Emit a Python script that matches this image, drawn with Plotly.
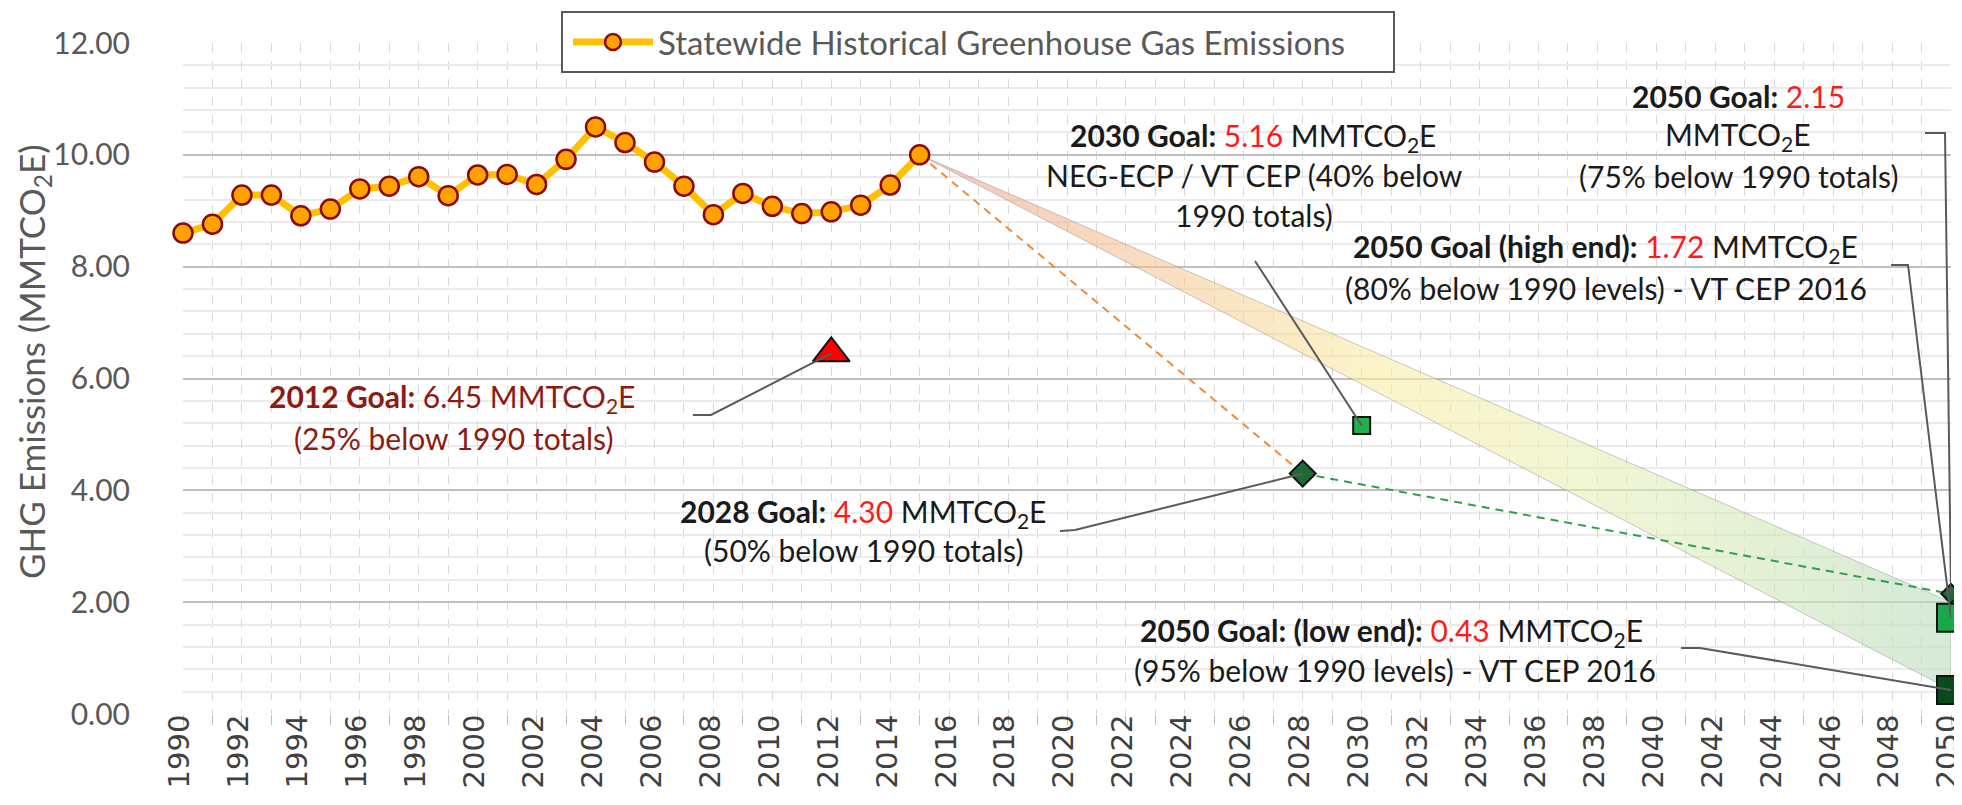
import plotly.graph_objects as go

# ---------------- data ----------------
hist_years = list(range(1990, 2016))
hist_values = [8.60, 8.76, 9.28, 9.28, 8.91, 9.03, 9.39, 9.44, 9.61, 9.27,
               9.64, 9.65, 9.47, 9.92, 10.50, 10.22, 9.87, 9.44, 8.93, 9.31,
               9.08, 8.95, 8.98, 9.10, 9.46, 10.00]

goal2012 = (2012, 6.45)
goal2028 = (2028, 4.30)
goal2030 = (2030, 5.16)
goal2050 = (2050, 2.15)
goal2050_high = (2050, 1.72)
goal2050_low = (2050, 0.43)

path1_years = [2015, 2028]
path1_values = [10.00, 4.30]
path2_years = [2028, 2050]
path2_values = [4.30, 2.15]

band_years = [2015, 2050]
band_upper = [10.00, 2.00]
band_lower = [10.00, 0.43]

x_tick_years = list(range(1990, 2051, 2))
y_ticks = [0, 2, 4, 6, 8, 10, 12]

# ---------------- layout helpers (reference pixel -> axis units) ----------------
L, R, T, B = 175, 19, 35, 99
W, H = 1962, 805
PW = W - R - L
PH = H - B - T
PX_YEAR = PW / 60.0
PX_UNIT = PH / 12.0


def dx(px):
    return 1990 + (px - L) / PX_YEAR


def dy(py):
    return (H - B - py) / PX_UNIT


def px_paper(px):
    return (px - L) / PW


def py_paper(py):
    return (H - B - py) / PH


FONT = "Lato"
DARK = "#1a1a1a"
RED = "#ff1a1a"
MAROON = "#8c1c13"
GREY = "#595959"

fig = go.Figure()

# gradient band
fig.add_trace(go.Scatter(
    x=band_years + band_years[::-1],
    y=band_upper + band_lower[::-1],
    fill="toself",
    fillgradient=dict(type="horizontal", colorscale=[
        [0.0, "rgba(238,150,130,0.55)"],
        [0.2, "rgba(243,190,140,0.55)"],
        [0.45, "rgba(250,238,165,0.6)"],
        [0.7, "rgba(225,238,185,0.6)"],
        [1.0, "rgba(190,222,195,0.65)"]]),
    line=dict(color="rgba(140,140,140,0.45)", width=1),
    mode="lines", hoverinfo="skip", showlegend=False))

# dashed goal paths
fig.add_trace(go.Scatter(x=path1_years, y=path1_values, mode="lines",
                         line=dict(color="#f08a3a", width=2, dash="8px,6px"),
                         showlegend=False, hoverinfo="skip"))
fig.add_trace(go.Scatter(x=path2_years, y=path2_values, mode="lines",
                         line=dict(color="#2e9e4f", width=2, dash="8px,6px"),
                         showlegend=False, hoverinfo="skip"))

# historical series
fig.add_trace(go.Scatter(
    x=hist_years, y=hist_values, mode="lines+markers",
    name="Statewide Historical Greenhouse Gas Emissions",
    line=dict(color="#ffc000", width=7),
    marker=dict(size=19, color="#ffa200", line=dict(color="#8b0a0a", width=2.5)),
    cliponaxis=False))


def goal_marker(pt, symbol, size, color):
    fig.add_trace(go.Scatter(
        x=[pt[0]], y=[pt[1]], mode="markers",
        marker=dict(symbol=symbol, size=size, color=color,
                    line=dict(color="#111111", width=2)),
        showlegend=False, cliponaxis=False, hoverinfo="skip"))


goal_marker(goal2012, "triangle-up", 32, "#ff0000")
goal_marker(goal2030, "square", 17, "#22b14c")
goal_marker(goal2028, "diamond", 20, "#1d6b34")
goal_marker(goal2050, "diamond", 15, "#1d6b34")
goal_marker(goal2050_high, "square", 28, "#1aa64a")
goal_marker(goal2050_low, "square", 28, "#0a4a1f")

# ---------------- annotations ----------------
annos = []
ASIZE = 30


def line_text(cx, cy, text, color=DARK, size=ASIZE):
    annos.append(dict(x=px_paper(cx), y=py_paper(cy), xref="paper", yref="paper",
                      text=text, showarrow=False, xanchor="center", yanchor="middle",
                      font=dict(family=FONT, size=size, color=color)))


MMT = "MMTCO<sub>2</sub>E"
# 2030
line_text(1245, 129, f"<b>2030 Goal:</b> <span style='color:{RED}'>5.16</span> {MMT}")
line_text(1246, 167, "NEG-ECP / VT CEP (40% below")
line_text(1246, 207, "1990 totals)")
# 2050 (2.15)
line_text(1730, 88, f"<b>2050 Goal:</b> <span style='color:{RED}'>2.15</span>")
line_text(1730, 128, MMT)
line_text(1730, 168, "(75% below 1990 totals)")
# 2050 high end
line_text(1597, 240, f"<b>2050 Goal (high end):</b> <span style='color:{RED}'>1.72</span> {MMT}")
line_text(1598, 280, "(80% below 1990 levels) - VT CEP 2016")
# 2050 low end
line_text(1383, 624, f"<b>2050 Goal: (low end):</b> <span style='color:{RED}'>0.43</span> {MMT}")
line_text(1387, 662, "(95% below 1990 levels) - VT CEP 2016")
# 2028
line_text(855, 505, f"<b>2028 Goal:</b> <span style='color:{RED}'>4.30</span> {MMT}")
line_text(855, 542, "(50% below 1990 totals)")
# 2012
line_text(444, 390, f"<b>2012 Goal:</b> 6.45 {MMT}", color=MAROON)
line_text(445, 430, "(25% below 1990 totals)", color=MAROON)

# y-axis title (placed as rotated text)
annos.append(dict(x=px_paper(25), y=py_paper(354), xref="paper", yref="paper",
                  text="GHG Emissions (MMTCO<sub>2</sub>E)", textangle=-90,
                  showarrow=False, xanchor="center", yanchor="middle",
                  font=dict(family=FONT, size=35, color=GREY)))

# ---------------- leader lines + legend frame ----------------
shapes = []


def leader(points_px, end_pt):
    pts = [(dx(px), dy(py)) for px, py in points_px] + [end_pt]
    path = "M " + " L ".join(f"{x},{y}" for x, y in pts)
    shapes.append(dict(type="path", path=path, xref="x", yref="y",
                       line=dict(color="#5a5a5a", width=2), layer="above"))


leader([(1247, 253)], goal2030)
leader([(1917, 125), (1937, 125)], goal2050)
leader([(1883, 257), (1900, 257)], goal2050_high)
leader([(1673, 640), (1692, 640)], goal2050_low)
leader([(1052, 523), (1067, 522)], goal2028)
leader([(685, 407), (703, 407)], goal2012)

# legend frame
shapes.append(dict(type="rect", xref="paper", yref="paper",
                   x0=px_paper(554), x1=px_paper(1386),
                   y0=py_paper(64), y1=py_paper(4),
                   fillcolor="white", line=dict(color=GREY, width=2),
                   layer="above"))

fig.update_layout(
    width=W, height=H,
    margin=dict(l=L, r=R, t=T, b=B, autoexpand=False),
    paper_bgcolor="white", plot_bgcolor="white",
    font=dict(family=FONT, color=GREY),
    annotations=annos, shapes=shapes,
    legend=dict(x=px_paper(560), y=py_paper(34),
                xanchor="left", yanchor="middle", orientation="h",
                borderwidth=0, bgcolor="rgba(0,0,0,0)",
                font=dict(family=FONT, size=33, color=GREY),
                itemwidth=80),
    xaxis=dict(range=[1990, 2050], tickmode="array", tickvals=x_tick_years,
               ticktext=[str(y) for y in x_tick_years], tickangle=-90,
               tickfont=dict(family="DejaVu Sans", size=29, color="#404040"),
               ticklabelstandoff=-22, ticklabelshift=-3,
               showgrid=True, gridcolor="#d9d9d9", griddash="dash", gridwidth=1,
               ticks="outside", ticklen=10, tickcolor="#bfbfbf",
               minor=dict(dtick=1, showgrid=True, gridcolor="#d9d9d9",
                          griddash="dash", gridwidth=1, ticks="outside",
                          ticklen=10, tickcolor="#bfbfbf"),
               zeroline=False, showline=False, automargin=False),
    yaxis=dict(range=[0, 12], tickmode="array", tickvals=y_ticks,
               ticktext=[f"{v:.2f}" for v in y_ticks],
               tickfont=dict(family=FONT, size=30, color=GREY),
               ticklabelstandoff=52,
               showgrid=True, gridcolor="#bfbfbf", gridwidth=2,
               minor=dict(dtick=0.4, showgrid=True, gridcolor="#ebebeb", gridwidth=2),
               zeroline=False, showline=False, automargin=False),
)

fig.write_html("out.html")
